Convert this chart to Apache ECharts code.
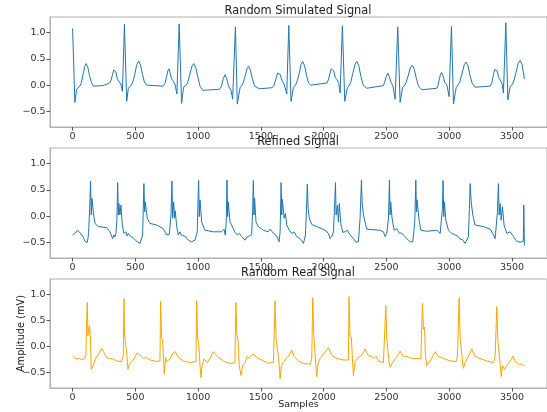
<!DOCTYPE html>
<html>
<head>
<meta charset="utf-8">
<script src="https://cdn.jsdelivr.net/npm/echarts@6/dist/echarts.min.js"></script>
<style>html,body{margin:0;padding:0;background:#fff}#c{width:547px;height:412px}</style>
</head>
<body>
<div id="c"></div>
<script>
const titles = ["Random Simulated Signal", "Refined Signal", "Random Real Signal"];
const xTicks = [0, 500, 1000, 1500, 2000, 2500, 3000, 3500];
const yTicks = [-0.5, 0.0, 0.5, 1.0];

const simulated = [
[0,1.08],[18,-0.33],[32,-0.08],[58,-0.02],[70,0.05],[85,0.22],[97,0.36],[108,0.41],[120,0.35],[135,0.18],[150,0.05],[165,-0.02],[180,-0.04],[240,-0.01],[290,0.03],
[305,0.08],[318,0.2],[328,0.29],[336,0.31],[345,0.25],[355,0.13],[368,0.07],[385,0.02],[397,-0.12],[413,1.16],[431,-0.31],[444,-0.06],[468,0.0],
[480,0.06],[495,0.2],[510,0.38],[527,0.46],[542,0.38],[557,0.2],[572,0.06],[590,0.0],[600,-0.01],[720,-0.02],
[735,0.03],[748,0.15],[758,0.27],[767,0.31],[777,0.24],[788,0.12],[800,0.08],[815,0.02],[831,-0.17],[849,1.17],[868,-0.35],[884,-0.04],[905,0.0],
[915,0.04],[930,0.17],[950,0.36],[966,0.41],[982,0.33],[998,0.15],[1015,-0.02],[1037,-0.1],[1170,-0.08],
[1185,-0.03],[1200,0.12],[1215,0.2],[1228,0.12],[1242,-0.02],[1262,-0.1],[1275,-0.27],[1297,1.11],[1312,-0.36],[1334,-0.05],[1350,0.0],
[1360,0.05],[1375,0.18],[1390,0.32],[1402,0.36],[1417,0.28],[1432,0.12],[1450,-0.02],[1487,-0.07],[1590,-0.05],
[1605,0.0],[1620,0.12],[1633,0.23],[1643,0.26],[1655,0.2],[1668,0.08],[1685,0.02],[1706,-0.17],[1722,1.14],[1740,-0.31],[1759,-0.05],[1780,0.02],
[1790,0.08],[1805,0.22],[1820,0.4],[1833,0.45],[1848,0.37],[1863,0.19],[1880,0.04],[1897,0.0],[2025,0.04],
[2038,0.1],[2050,0.22],[2060,0.31],[2070,0.33],[2080,0.27],[2093,0.14],[2108,0.1],[2120,0.03],[2131,-0.15],[2149,1.13],[2168,-0.31],[2189,-0.05],[2205,0.0],
[2215,0.05],[2230,0.2],[2250,0.4],[2264,0.45],[2280,0.37],[2295,0.18],[2315,0.0],[2343,-0.06],[2476,-0.01],
[2485,0.05],[2498,0.16],[2511,0.23],[2522,0.17],[2537,0.05],[2552,-0.02],[2569,-0.27],[2590,1.11],[2609,-0.33],[2628,-0.05],[2645,0.0],
[2655,0.04],[2672,0.17],[2690,0.33],[2707,0.38],[2722,0.3],[2738,0.13],[2755,-0.02],[2781,-0.09],[2901,-0.06],
[2910,-0.01],[2922,0.12],[2930,0.2],[2938,0.24],[2950,0.18],[2965,0.05],[2982,0.0],[2999,-0.22],[3018,1.12],[3034,-0.36],[3055,-0.05],[3075,0.02],
[3085,0.07],[3100,0.2],[3120,0.39],[3135,0.44],[3150,0.37],[3165,0.19],[3182,0.04],[3206,-0.04],[3326,-0.02],
[3340,0.05],[3352,0.2],[3362,0.3],[3371,0.33],[3382,0.27],[3395,0.14],[3410,0.08],[3422,0.02],[3432,-0.15],[3451,1.19],[3467,-0.28],[3486,-0.03],[3505,0.02],
[3515,0.08],[3530,0.22],[3550,0.42],[3565,0.47],[3580,0.4],[3599,0.12]
];

const refined = [
[0,-0.36],[19,-0.33],[37,-0.27],[53,-0.30],[72,-0.36],[85,-0.40],[98,-0.48],[108,-0.45],[117,-0.50],[127,-0.35],[138,0.27],[143,0.67],[149,0.02],[154,0.34],[165,0.08],[178,-0.14],[205,-0.20],[271,-0.22],
[297,-0.30],[319,-0.43],[329,-0.36],[337,-0.40],[345,-0.33],[353,-0.08],[359,0.64],[364,0.02],[369,0.24],[377,0.02],[385,0.21],[396,-0.17],[409,-0.33],[425,-0.30],[435,-0.38],[444,-0.33],[458,-0.38],[470,-0.36],[485,-0.42],[497,-0.43],[515,-0.49],[537,-0.52],[558,-0.36],[563,0.15],[568,0.62],[574,0.08],[579,0.27],[595,-0.04],[616,-0.14],[669,-0.17],[722,-0.24],
[749,-0.36],[770,-0.35],[784,0.02],[791,0.67],[797,-0.04],[805,0.27],[813,-0.04],[818,0.10],[829,-0.20],[842,-0.36],[855,-0.30],[866,-0.36],[876,-0.33],[898,-0.39],[910,-0.37],[922,-0.46],[935,-0.43],[948,-0.49],[975,-0.46],[993,-0.30],[999,0.27],[1004,0.68],[1009,-0.01],[1015,0.31],[1028,-0.11],[1054,-0.27],[1121,-0.30],[1187,-0.30],
[1206,-0.25],[1216,-0.36],[1224,-0.11],[1230,0.69],[1235,-0.01],[1240,0.27],[1254,-0.11],[1280,-0.24],[1293,-0.31],[1312,-0.36],[1328,-0.33],[1347,-0.39],[1360,-0.42],[1373,-0.46],[1387,-0.40],[1400,-0.43],[1426,-0.36],[1434,0.08],[1440,0.68],[1445,0.02],[1450,0.34],[1461,-0.11],[1479,-0.20],[1519,-0.27],[1559,-0.30],
[1573,-0.25],[1600,-0.33],[1626,-0.38],[1645,-0.49],[1653,-0.30],[1658,0.27],[1661,0.64],[1666,0.02],[1671,0.32],[1685,-0.04],[1695,0.05],[1706,-0.17],[1727,-0.27],[1746,-0.33],[1764,-0.30],[1785,-0.39],[1800,-0.36],[1812,-0.43],[1839,-0.52],[1855,-0.36],[1865,0.27],[1870,0.61],[1876,0.15],[1886,-0.04],[1905,-0.16],[1945,-0.20],[2011,-0.27],
[2038,-0.33],[2051,-0.43],[2064,-0.39],[2078,-0.30],[2088,0.27],[2094,0.64],[2099,0.02],[2110,0.21],[2117,-0.11],[2125,0.24],[2136,-0.14],[2152,-0.31],[2171,-0.30],[2189,-0.27],[2210,-0.36],[2224,-0.38],[2237,-0.43],[2258,-0.50],[2277,-0.49],[2290,-0.04],[2301,0.69],[2306,0.27],[2317,0.02],[2330,-0.11],[2343,-0.25],[2449,-0.27],
[2476,-0.30],[2489,-0.39],[2503,-0.33],[2516,-0.04],[2524,0.69],[2529,0.02],[2534,0.27],[2545,-0.04],[2561,-0.27],[2582,-0.24],[2604,-0.33],[2620,-0.32],[2635,-0.36],[2662,-0.43],[2688,-0.49],[2710,-0.49],[2726,-0.11],[2734,0.69],[2739,0.08],[2744,0.31],[2758,-0.04],[2774,-0.27],[2821,-0.29],[2901,-0.27],
[2928,-0.33],[2941,-0.36],[2946,0.15],[2951,0.68],[2957,-0.01],[2962,0.27],[2973,-0.08],[2994,-0.27],[3021,-0.33],[3047,-0.36],[3067,-0.38],[3087,-0.44],[3105,-0.45],[3127,-0.52],[3153,-0.39],[3161,0.15],[3167,0.62],[3175,0.27],[3188,0.02],[3206,-0.17],[3273,-0.20],[3326,-0.25],
[3353,-0.36],[3366,-0.43],[3384,0.08],[3392,0.62],[3398,0.02],[3406,0.24],[3414,-0.08],[3424,0.18],[3437,-0.17],[3459,-0.33],[3472,-0.30],[3485,-0.30],[3512,-0.39],[3525,-0.44],[3538,-0.48],[3552,-0.45],[3565,-0.50],[3578,-0.48],[3590,-0.48],[3594,0.21],[3599,-0.56]
];

const real = [
[5,-0.19],[19,-0.23],[37,-0.24],[55,-0.23],[72,-0.26],[98,-0.23],[106,-0.15],[112,0.53],[117,0.85],[122,0.21],[130,0.35],[135,0.40],[141,0.21],[149,-0.44],[157,-0.47],[165,-0.37],[181,-0.24],[205,-0.15],[231,-0.04],[250,-0.12],[271,-0.21],[292,-0.23],[305,-0.21],[319,-0.24],[351,-0.28],[390,-0.29],
[404,-0.18],[409,0.92],[414,0.24],[425,0.22],[433,-0.18],[441,-0.44],[452,-0.34],[462,-0.37],[483,-0.26],[515,-0.12],[537,-0.17],[563,-0.23],[584,-0.21],[616,-0.26],[669,-0.29],[696,-0.28],
[701,0.87],[709,0.17],[717,0.13],[728,-0.40],[730,-0.53],[741,-0.21],[749,-0.29],[776,-0.24],[802,-0.12],[818,-0.10],[842,-0.21],[882,-0.28],[935,-0.31],[983,-0.29],
[988,0.88],[996,0.14],[1004,0.08],[1015,-0.37],[1023,-0.60],[1031,-0.37],[1046,-0.24],[1060,-0.21],[1073,-0.31],[1094,-0.23],[1121,-0.10],[1134,-0.08],[1161,-0.21],[1201,-0.28],[1254,-0.33],[1293,-0.31],
[1301,0.85],[1309,0.21],[1317,0.14],[1328,-0.37],[1341,-0.56],[1355,-0.37],[1373,-0.31],[1392,-0.19],[1408,-0.23],[1426,-0.17],[1445,-0.15],[1466,-0.21],[1519,-0.28],[1560,-0.32],[1600,-0.31],
[1613,0.88],[1621,0.14],[1631,0.11],[1642,-0.24],[1653,-0.62],[1663,-0.37],[1679,-0.31],[1700,-0.23],[1719,-0.19],[1746,-0.07],[1764,-0.19],[1799,-0.28],[1839,-0.33],[1892,-0.34],
[1905,-0.24],[1913,0.94],[1921,0.21],[1929,-0.05],[1940,-0.44],[1945,-0.58],[1955,-0.34],[1971,-0.23],[1998,-0.15],[2038,-0.02],[2064,-0.17],[2104,-0.23],[2157,-0.26],[2197,-0.26],
[2202,0.96],[2210,0.21],[2221,0.17],[2229,-0.24],[2237,-0.56],[2250,-0.29],[2277,-0.21],[2303,-0.17],[2330,-0.05],[2357,-0.18],[2383,-0.19],[2402,-0.23],[2418,-0.19],[2436,-0.28],[2476,-0.31],
[2487,-0.28],[2495,0.79],[2503,0.14],[2511,0.11],[2521,-0.31],[2529,-0.40],[2542,-0.34],[2569,-0.24],[2596,-0.15],[2609,-0.09],[2635,-0.19],[2662,-0.19],[2702,-0.23],[2742,-0.23],[2755,-0.26],[2774,-0.24],
[2787,0.83],[2795,0.33],[2803,0.37],[2811,-0.18],[2821,-0.37],[2835,-0.37],[2853,-0.26],[2874,-0.17],[2888,-0.10],[2914,-0.19],[2954,-0.23],[3007,-0.28],[3055,-0.29],[3066,-0.18],
[3079,0.94],[3087,0.17],[3098,0.14],[3108,-0.34],[3113,-0.42],[3127,-0.31],[3153,-0.19],[3180,-0.05],[3206,-0.19],[3246,-0.23],[3299,-0.28],[3353,-0.31],[3366,-0.19],
[3379,0.77],[3387,0.14],[3395,0.11],[3406,-0.34],[3414,-0.58],[3424,-0.37],[3440,-0.44],[3459,-0.37],[3485,-0.29],[3507,-0.19],[3525,-0.28],[3552,-0.34],[3578,-0.34],[3599,-0.37]
];

const seriesData = [simulated, refined, real];
const colors = ['#1f77b4', '#1f77b4', '#ffa500'];
const gridTops = [17, 148, 279];
const gridHeights = [110, 110, 109];
const titleTops = [5.5, 136.5, 267.5];

const FONT = 'DejaVu Sans';
const spine = '#b0b0b0';
const tickColor = '#555';

const chart = echarts.init(document.getElementById('c'), null, {renderer: 'canvas'});
const fmtY = v => (v < 0 ? '\u2212' : '') + Math.abs(v).toFixed(1);
const fmtX = v => String(Math.round(v));

const option = {
  animation: false,
  backgroundColor: '#fff',
  title: titles.map((t, i) => ({
    text: t, left: 298, top: titleTops[i], textAlign: 'center', padding: 0,
    textStyle: {fontFamily: FONT, fontSize: 11.4, fontWeight: 'normal', color: '#222'}
  })),
  grid: gridTops.map((t, i) => ({left: 50, right: 0, top: t, height: gridHeights[i], show: true, borderColor: spine, borderWidth: 1, containLabel: false, outerBoundsMode: 'none'})),
  xAxis: [0,1,2].map(i => ({
    type: 'value', gridIndex: i, min: -180, max: 3779,
    name: i === 2 ? 'Samples' : '', nameLocation: 'middle', nameGap: 12, nameMoveOverlap: false,
    nameTextStyle: {fontFamily: FONT, fontSize: 9.5, color: '#222'},
    splitLine: {show: false},
    axisLine: {show: true, onZero: false, lineStyle: {color: spine}},
    axisTick: {show: true, length: 3.5, customValues: xTicks, lineStyle: {color: tickColor}},
    axisLabel: {customValues: xTicks, formatter: fmtX, fontFamily: FONT, fontSize: 9.5, color: '#333', margin: 4.5}
  })),
  yAxis: [0,1,2].map(i => ({
    type: 'value', gridIndex: i, min: -0.8, max: 1.3,
    name: i === 2 ? 'Amplitude (mV)' : '', nameLocation: 'middle', nameGap: 24, nameRotate: 90, nameMoveOverlap: false,
    nameTextStyle: {fontFamily: FONT, fontSize: 9.8, color: '#222'},
    splitLine: {show: false},
    axisLine: {show: true, onZero: false, lineStyle: {color: spine}},
    axisTick: {show: true, length: 3.5, customValues: yTicks, lineStyle: {color: tickColor}},
    axisLabel: {customValues: yTicks, formatter: fmtY, fontFamily: FONT, fontSize: 9.5, color: '#333', margin: 4.5}
  })),
  series: seriesData.map((d, i) => ({
    type: 'line', xAxisIndex: i, yAxisIndex: i, data: d, showSymbol: false, symbol: 'none',
    lineStyle: {color: colors[i], width: 1}, silent: true
  }))
};
chart.setOption(option);
</script>
</body>
</html>
